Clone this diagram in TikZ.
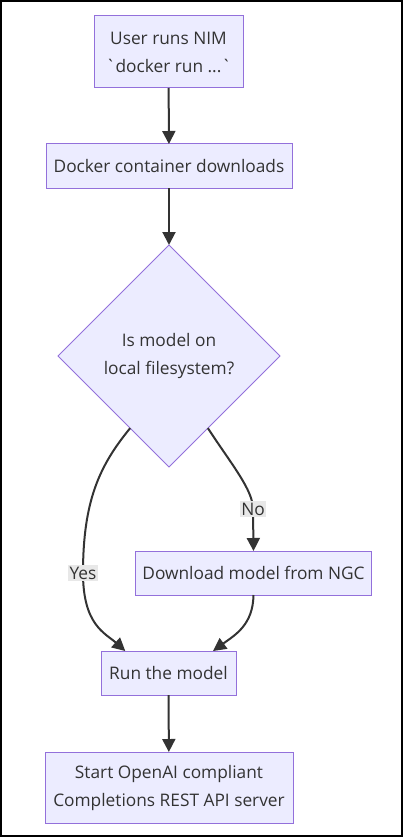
\documentclass[tikz,border=0pt]{standalone}
\usepackage{fontspec}
\setmainfont{Open Sans}
\usetikzlibrary{shapes.geometric,arrows.meta,calc}
\definecolor{nodefill}{HTML}{ECECFF}
\definecolor{nodeline}{HTML}{9370DB}
\definecolor{edgecol}{HTML}{333333}
\definecolor{lblbg}{HTML}{E8E8E8}
\definecolor{txt}{HTML}{333333}
\begin{document}
\begin{tikzpicture}[x=1pt,y=-1pt,
  box/.style={draw=nodeline, fill=nodefill, line width=1pt, text=txt,
    font=\fontsize{17.3}{28}\selectfont, align=center, inner sep=0pt, outer sep=0pt},
  decision/.style={box, diamond, aspect=1},
  flow/.style={draw=edgecol, line width=2pt, -{Triangle[length=13pt,width=13pt]}},
  lbl/.style={fill=lblbg, text=txt, font=\fontsize{17.3}{20}\selectfont, inner sep=1.5pt}
]
\path[use as bounding box] (0,0) rectangle (403,837);
\draw[black, line width=2pt] (1,1) rectangle (402,836);

\node[box, minimum width=149pt, minimum height=72pt] (start) at (168.5,52)
  {User runs NIM\\\textasciigrave docker run ...\textasciigrave};
\node[box, minimum width=246pt, minimum height=44pt] (dl) at (169,166)
  {Docker container downloads};
\node[decision, minimum width=222pt, minimum height=222pt] (dec) at (169,356)
  {Is model on\\local filesystem?};
\node[box, minimum width=236pt, minimum height=44pt] (ngc) at (253.5,573)
  {Download model from NGC};
\node[box, minimum width=135pt, minimum height=44pt] (run) at (168.5,673)
  {Run the model};
\node[box, minimum width=248pt, minimum height=71pt] (api) at (169,787.5)
  {Start OpenAI compliant\\Completions REST API server};

\draw[flow] (start) -- (dl);
\draw[flow] (dl) -- (dec);
\draw[flow] ($(dec.west)!0.65!(dec.south)$) .. controls (100,465) and (83,500) ..
  (83,573) node[lbl] {Yes}
  .. controls (83,625) and (105,633) .. ($(run.north west)!0.18!(run.north east)$);
\draw[flow] ($(dec.east)!0.65!(dec.south)$) .. controls (232,465) and (253,490) ..
  (253,509) node[lbl] {No} -- (ngc.north);
\draw[flow] (ngc.south) .. controls (253,625) and (235,635) ..
  ($(run.north west)!0.83!(run.north east)$);
\draw[flow] (run) -- (api);
\end{tikzpicture}
\end{document}
